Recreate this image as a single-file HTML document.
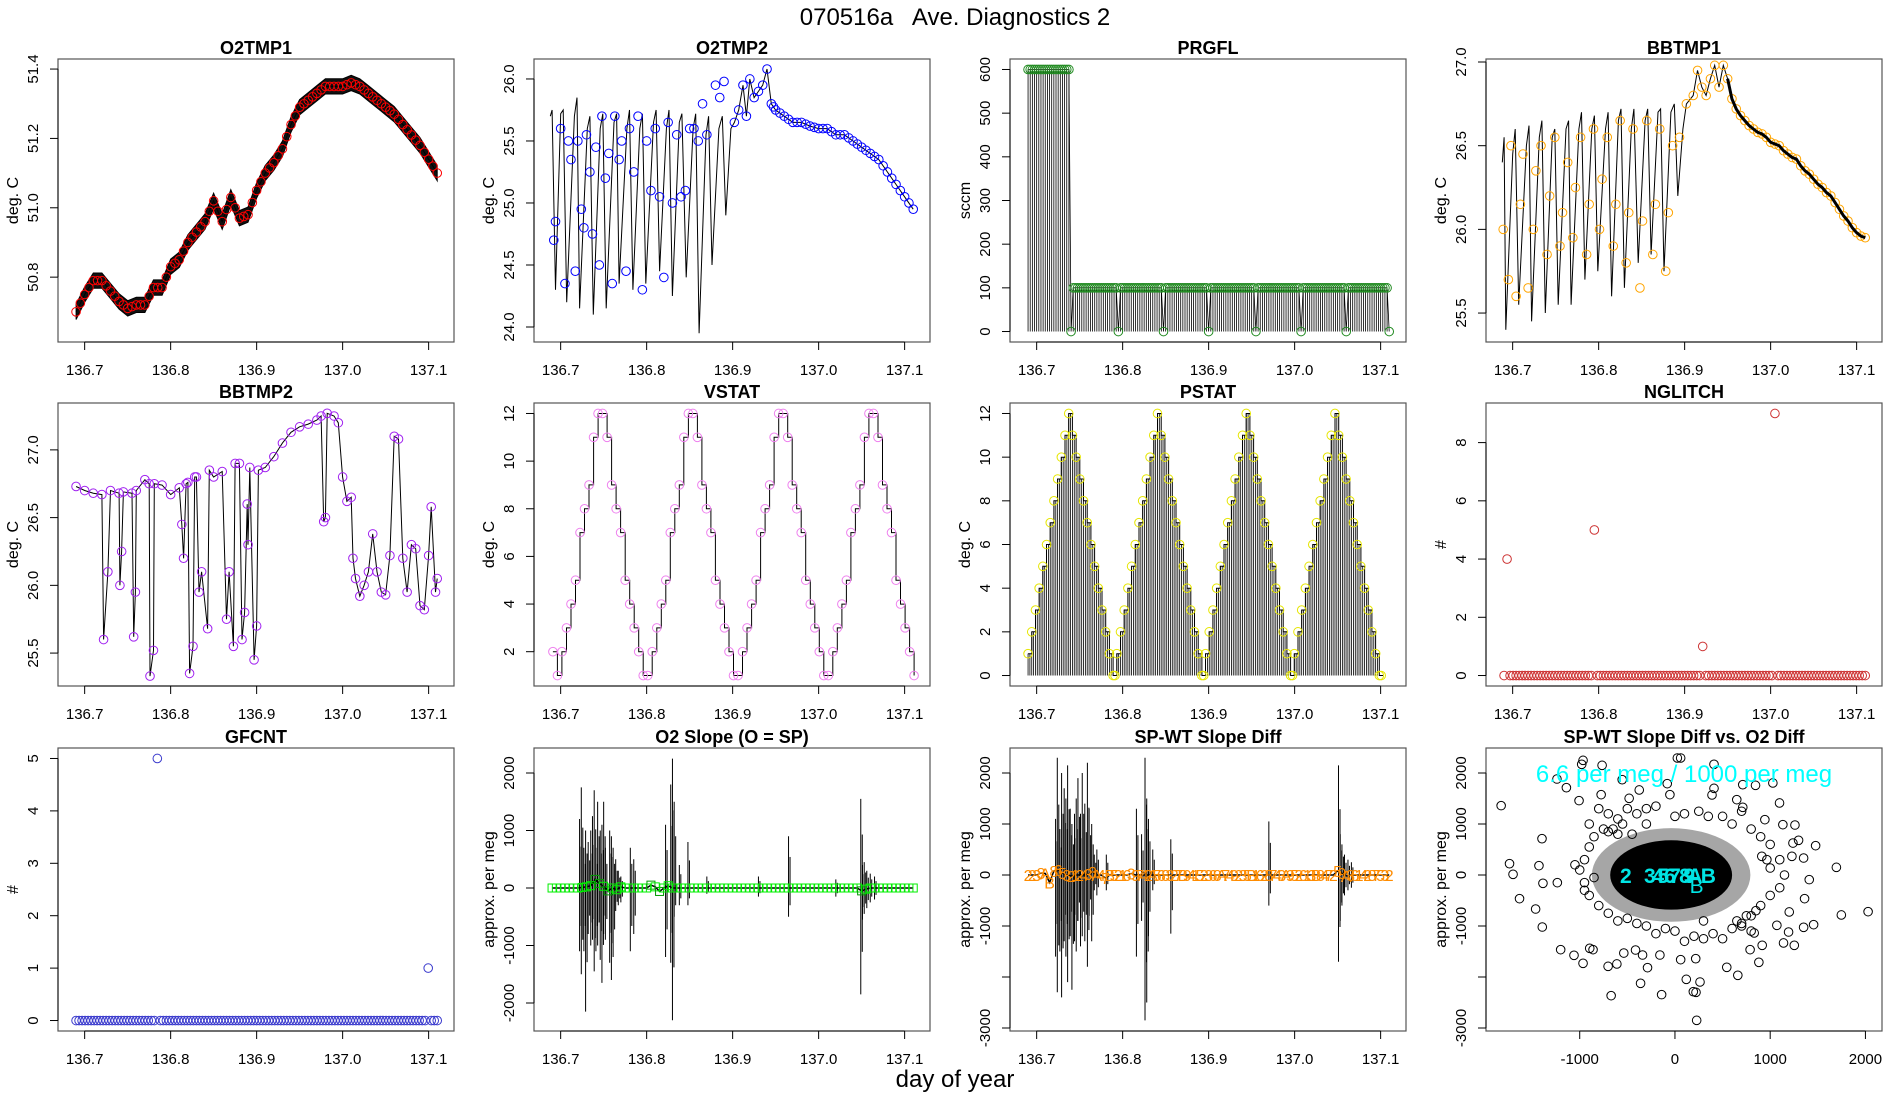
<!DOCTYPE html>
<html><head><meta charset="utf-8"><title>070516a Ave. Diagnostics 2</title>
<style>
html,body{margin:0;padding:0;background:#fff;}
svg{display:block;font-family:"Liberation Sans",Arial,sans-serif;}
</style></head>
<body>
<svg id="chart" width="1900" height="1100" viewBox="0 0 1900 1100" xmlns="http://www.w3.org/2000/svg">
<rect x="0" y="0" width="1900" height="1100" fill="#fff"/>
<text x="955" y="25" font-size="24" text-anchor="middle" style="white-space:pre">070516a   Ave. Diagnostics 2</text>
<text x="955" y="1087" font-size="24" text-anchor="middle">day of year</text>
</svg>
<script>
// ---------- data ----------
const dayTicks = [136.7, 136.8, 136.9, 137.0, 137.1];
const dayTickLabels = ["136.7", "136.8", "136.9", "137.0", "137.1"];

const o2t1Start = 136.69, o2t1Step = 0.01;
const o2t1Vals = [50.70,50.75,50.79,50.79,50.76,50.73,50.71,50.72,50.72,50.77,50.77,50.83,50.85,50.90,50.93,50.96,51.02,50.96,51.03,50.97,50.98,51.05,51.10,51.13,51.17,51.24,51.29,51.31,51.33,51.35,51.35,51.35,51.36,51.35,51.33,51.31,51.29,51.27,51.24,51.21,51.18,51.14,51.10];

const o2t2X = [136.688,136.690,136.694,136.700,136.703,136.707,136.716,136.719,136.722,136.731,136.734,136.738,136.746,136.749,136.753,136.762,136.765,136.768,136.777,136.780,136.784,136.792,136.795,136.799,136.808,136.811,136.815,136.823,136.826,136.830,136.838,136.841,136.846,136.854,136.857,136.861,136.869,136.872,136.876,136.884,136.888,136.892,136.898,136.902,136.907,136.912,136.916,136.920,136.925,136.930,136.935,136.940,136.945,136.950,136.960,136.970,136.980,136.990,137.000,137.010,137.020,137.030,137.040,137.050,137.060,137.070,137.080,137.090,137.100,137.110];
const o2t2Y = [25.70,25.75,24.30,25.72,25.75,24.20,25.70,25.85,24.15,25.60,25.70,24.10,25.60,25.72,24.15,25.65,25.72,24.35,25.60,25.75,24.30,25.60,25.72,24.35,25.65,25.75,24.45,25.60,25.75,24.25,25.65,25.72,24.40,25.60,25.72,23.95,25.55,25.70,24.50,25.60,25.70,24.90,25.60,25.65,25.75,25.95,25.70,26.00,25.85,25.90,25.95,26.08,25.80,25.75,25.70,25.65,25.65,25.62,25.60,25.60,25.55,25.55,25.50,25.45,25.40,25.35,25.25,25.15,25.05,24.95];
const o2t2CircX = [136.692,136.694,136.700,136.705,136.709,136.712,136.717,136.720,136.724,136.727,136.730,136.734,136.737,136.741,136.745,136.748,136.752,136.756,136.760,136.763,136.768,136.771,136.776,136.780,136.785,136.790,136.795,136.800,136.805,136.810,136.815,136.820,136.825,136.830,136.835,136.840,136.845,136.850,136.855,136.860,136.865,136.870,136.880,136.885,136.890];
const o2t2CircY = [24.70,24.85,25.60,24.35,25.50,25.35,24.45,25.50,24.95,24.80,25.55,25.25,24.75,25.45,24.50,25.70,25.20,25.40,24.35,25.70,25.35,25.50,24.45,25.60,25.25,25.70,24.30,25.50,25.10,25.60,25.05,24.40,25.65,25.00,25.55,25.05,25.10,25.60,25.60,25.50,25.80,25.55,25.95,25.85,25.98];

const prgflStart = 136.69, prgflStep = 0.0025;
const prgflLevels = [600,0,100,0,100,0,100,0,100,0,100,0,100,0,100,0];
const prgflCounts = [20,1,21,1,20,1,20,1,21,1,20,1,20,1,19,1];

const bb1X = [136.688,136.690,136.692,136.700,136.703,136.707,136.716,136.719,136.722,136.731,136.734,136.738,136.746,136.749,136.753,136.762,136.765,136.768,136.777,136.780,136.784,136.792,136.795,136.799,136.808,136.811,136.815,136.823,136.826,136.830,136.838,136.841,136.846,136.854,136.857,136.861,136.869,136.872,136.876,136.884,136.888,136.892,136.898,136.902,136.910,136.915,136.920,136.925,136.930,136.935,136.940,136.945,136.950,136.955,136.960,136.965,136.970,136.975,136.980,136.985,136.990,136.995,137.000,137.005,137.010,137.015,137.020,137.025,137.030,137.035,137.040,137.045,137.050,137.055,137.060,137.065,137.070,137.075,137.080,137.085,137.090,137.095,137.100,137.105,137.110];
const bb1Y = [26.40,26.55,25.40,26.45,26.60,25.55,26.50,26.62,25.45,26.55,26.65,25.50,26.55,26.60,25.55,26.60,26.65,25.55,26.60,26.70,25.70,26.60,26.68,25.75,26.60,26.70,25.60,26.65,26.72,25.65,26.60,26.72,25.80,26.65,26.72,25.85,26.70,26.72,25.75,26.70,26.75,26.20,26.60,26.75,26.80,26.95,26.85,26.80,26.90,26.98,26.85,26.98,26.90,26.78,26.72,26.68,26.65,26.62,26.60,26.58,26.57,26.55,26.52,26.51,26.50,26.47,26.45,26.43,26.42,26.38,26.35,26.33,26.30,26.27,26.25,26.22,26.20,26.16,26.12,26.08,26.05,26.01,25.98,25.96,25.95];
const bb1CircX = [136.689,136.695,136.698,136.704,136.709,136.712,136.718,136.724,136.727,136.733,136.740,136.743,136.749,136.755,136.758,136.764,136.770,136.773,136.779,136.786,136.789,136.794,136.801,136.804,136.810,136.817,136.820,136.825,136.832,136.835,136.840,136.848,136.851,136.856,136.863,136.866,136.871,136.878,136.881,136.886,136.894];
const bb1CircY = [26.00,25.70,26.50,25.60,26.15,26.45,25.65,26.00,26.35,26.50,25.85,26.20,26.55,25.90,26.10,26.40,25.95,26.25,26.55,25.85,26.15,26.60,26.00,26.30,26.55,25.90,26.15,26.65,25.80,26.10,26.60,25.65,26.05,26.65,25.85,26.15,26.60,25.75,26.10,26.50,26.55];

const bb2X = [136.690,136.700,136.710,136.720,136.722,136.727,136.730,136.740,136.741,136.743,136.745,136.755,136.757,136.759,136.760,136.770,136.775,136.776,136.780,136.781,136.790,136.800,136.810,136.813,136.815,136.818,136.820,136.822,136.826,136.828,136.830,136.833,136.836,136.843,136.845,136.850,136.860,136.865,136.868,136.873,136.875,136.880,136.883,136.886,136.889,136.890,136.892,136.897,136.900,136.902,136.910,136.920,136.930,136.940,136.950,136.960,136.970,136.975,136.978,136.980,136.982,136.990,136.995,137.000,137.005,137.010,137.012,137.015,137.020,137.025,137.030,137.035,137.040,137.045,137.050,137.055,137.060,137.065,137.070,137.075,137.080,137.085,137.090,137.095,137.100,137.103,137.108,137.110];
const bb2Y = [26.73,26.70,26.68,26.67,25.60,26.10,26.70,26.68,26.00,26.25,26.69,26.68,25.62,25.95,26.70,26.78,26.75,25.33,25.52,26.75,26.74,26.67,26.72,26.45,26.20,26.75,26.76,25.35,25.55,26.80,26.80,25.95,26.10,25.68,26.85,26.80,26.84,25.75,26.10,25.55,26.90,26.90,25.60,25.80,26.60,26.30,26.87,25.45,25.70,26.85,26.87,26.95,27.05,27.13,27.17,27.19,27.22,27.25,26.47,26.50,27.27,27.25,27.20,26.80,26.62,26.65,26.20,26.05,25.92,26.00,26.10,26.38,26.10,25.95,25.93,26.22,27.10,27.08,26.20,25.95,26.30,26.27,25.85,25.82,26.22,26.58,25.95,26.05];

const vstatStart = 136.691, vstatStep = 0.00525;
const vstatVals = [2,1,2,3,4,5,7,8,9,11,12,12,11,9,8,7,5,4,3,2,1,1,2,3,4,5,7,8,9,11,12,12,11,9,8,7,5,4,3,2,1,1,2,3,4,5,7,8,9,11,12,12,11,9,8,7,5,4,3,2,1,1,2,3,4,5,7,8,9,11,12,12,11,9,8,7,5,4,3,2,1];

const pstatStart = 136.69, pstatStep = 0.0043;
const pstatVals = [1,2,3,4,5,6,7,8,9,10,11,12,11,10,9,8,7,6,5,4,3,2,1,0,1,2,3,4,5,6,7,8,9,10,11,12,11,10,9,8,7,6,5,4,3,2,1,0,1,2,3,4,5,6,7,8,9,10,11,12,11,10,9,8,7,6,5,4,3,2,1,0,1,2,3,4,5,6,7,8,9,10,11,12,11,10,9,8,7,6,5,4,3,2,1,0];

const cntStart = 136.69, cntStep = 0.0035;
const nglitchVals = [0,4,0,0,0,0,0,0,0,0, 0,0,0,0,0,0,0,0,0,0, 0,0,0,0,0,0,0,0,0,0, 5,0,0,0,0,0,0,0,0,0, 0,0,0,0,0,0,0,0,0,0, 0,0,0,0,0,0,0,0,0,0, 0,0,0,0,0,0,1,0,0,0, 0,0,0,0,0,0,0,0,0,0, 0,0,0,0,0,0,0,0,0,0, 9,0,0,0,0,0,0,0,0,0, 0,0,0,0,0,0,0,0,0,0, 0,0,0,0,0,0,0,0,0,0, 0];
const gfcntVals = [0,0,0,0,0,0,0,0,0,0, 0,0,0,0,0,0,0,0,0,0, 0,0,0,0,0,0,0,5,0,0, 0,0,0,0,0,0,0,0,0,0, 0,0,0,0,0,0,0,0,0,0, 0,0,0,0,0,0,0,0,0,0, 0,0,0,0,0,0,0,0,0,0, 0,0,0,0,0,0,0,0,0,0, 0,0,0,0,0,0,0,0,0,0, 0,0,0,0,0,0,0,0,0,0, 0,0,0,0,0,0,0,0,0,0, 0,0,0,0,0,0,0,1,0,0, 0];

const o2sX  = [136.722,136.724,136.727,136.729,136.732,136.735,136.737,136.739,136.741,136.743,136.746,136.748,136.750,136.752,136.757,136.759,136.761,136.764,136.767,136.770,136.781,136.785,136.822,136.828,136.830,136.832,136.838,136.848,136.870,136.930,136.965,137.020,137.049,137.051,137.053,137.056,137.060,137.065];
const o2sHi = [1200,1750,700,1000,800,1000,1250,1700,700,1500,1000,1100,1500,700,1000,900,700,500,300,200,700,500,1100,1800,2250,1500,400,800,200,200,900,150,1550,400,450,300,250,200];
const o2sLo = [-1100,-1500,-1100,-2150,-800,-1000,-900,-1450,-1100,-1000,-1250,-1650,-800,-900,-1300,-1600,-1200,-400,-300,-250,-1100,-800,-1200,-1300,-2300,-500,-300,-300,-100,-150,-500,-150,-1850,-550,-450,-350,-250,-200];
const o2sqStart = 136.69, o2sqStep = 0.005;
const o2sqVals = [0,0,0,0,0,0,0,10,20,40,150,80,30,-50,0,-30,20,0,0,0,0,0,0,50,20,-60,0,40,0,0,0,0,0,0,0,0,0,0,0,0,0,0,0,0,0,0,0,0,0,0,0,0,0,0,0,0,0,0,0,0,0,0,0,0,0,0,0,0,0,0,0,0,-50,-20,0,0,0,0,0,0,0,0,0,0,0];

const spwX  = [136.722,136.724,136.727,136.729,136.732,136.734,136.736,136.739,136.741,136.744,136.746,136.748,136.751,136.753,136.756,136.759,136.761,136.764,136.767,136.770,136.781,136.816,136.822,136.826,136.828,136.830,136.835,136.856,136.970,137.051,137.053,137.055,137.058,137.062,137.066];
const spwHi = [1100,2300,900,2000,1700,1500,2150,1300,1000,1200,1500,1900,1200,2000,1400,2200,1300,1000,400,500,400,1300,800,2300,1500,1100,500,700,1050,2150,800,600,400,300,250];
const spwLo = [-1600,-2300,-1500,-2400,-1300,-1600,-2100,-1200,-2250,-1300,-1500,-900,-1400,-1200,-1300,-1800,-800,-1300,-300,-400,-300,-1600,-900,-2850,-2500,-1200,-300,-1150,-600,-1700,-900,-600,-400,-300,-250];
const spwLabStart = 136.69, spwLabStep = 0.005;
const spwLabChars = ["2","2","3","8","A","B","8","6","5","3","2","1","2","4","3","8","A","4","7","B","5","2","1","6","3","9","7","4","2","A","5","6","8","3","2","7","B","9","4","1","5","2","3","6","8","A","7","4","9","2","3","5","B","1","6","2","8","7","4","3","A","9","5","2","6","1","3","B","8","4","7","2","5","9","A","3","6","1","4","2","8","7","5","3","2"];
const spwLabVals = [0,0,0,40,30,-150,80,100,40,0,-20,0,0,0,20,60,0,0,-60,0,0,0,0,0,30,0,0,0,0,0,0,0,0,0,0,0,0,0,0,0,0,0,0,0,0,0,0,0,0,0,0,0,0,0,0,0,0,0,0,0,0,0,0,0,0,0,0,0,0,0,0,0,80,40,-20,0,0,0,0,0,0,0,0,0,0];

const scX = [-1825,-1737,-1700,-1632,-1463,-1428,-1396,-1386,-1393,-1235,-1200,-1140,-1239,-1060,-1007,-965,-979,-965,-895,-860,-765,-775,-702,-670,-610,-554,-481,-537,-414,-375,-361,-340,-288,-140,-158,-81,-53,25,60,119,193,221,228,263,218,60,410,410,389,649,712,846,1028,712,544,660,832,789,881,916,944,1098,1133,1260,1298,1239,1477,1351,1410,1361,1456,1351,1253,1140,1193,1695,1747,2028,1070,1200,1228,1000,965,912,-900,-800,-700,-750,-600,-500,-400,-300,-200,0,100,250,350,500,600,700,800,900,1000,1100,1150,1100,1000,900,800,700,600,500,400,300,200,100,0,-100,-200,-300,-400,-500,-600,-700,-800,-900,-950,-1000,-950,-900,-850,-1050,-950,-850,-650,-550,-450,650,750,850,-700,-600,700,800,-300,300];
const scY = [1360,222,13,-464,-667,183,712,-163,-1020,-150,-1464,1712,1882,-1575,1458,2248,2170,-1732,-1438,-1464,2150,1575,-1791,-2366,-1745,1869,1503,-1530,-1471,1667,-2124,-1569,-1817,-2346,-1569,1791,1575,2294,2294,-2046,-2288,-2301,-2850,-2098,-1641,-1660,2170,1699,1569,1477,1771,1758,1804,1327,-1810,-1967,-1137,-1464,-1712,-1379,1085,1412,987,980,680,627,575,333,-91,-464,-974,-1026,-1379,-1333,-1118,150,-784,-719,-987,-725,366,137,300,366,1000,1300,1200,900,1100,1300,1200,1300,1350,1150,1200,1250,1150,1150,1000,1250,900,750,600,300,0,-250,-400,-600,-800,-950,-1050,-1250,-1150,-1250,-1200,-1300,-1100,-1050,-1150,-1000,-950,-850,-900,-750,-600,-400,-150,100,300,550,750,200,-300,-50,900,1000,800,-900,-800,-700,850,800,-1000,-1100,1000,-900];
const scCore = [-40, 0, 640, 680];
const scLabChars = ["2","3","4","5","6","7","8","9","A","B","B"];
const scLabX = [-516,-263,-175,-123,-53,0,105,150,210,350,228];
const scLabY = [0,0,0,0,0,0,0,0,0,0,-200];
const scXTicks = [-1000,0,1000,2000];
const scXTickLabels = ["-1000","0","1000","2000"];

// ---------- helpers ----------
const svg = document.getElementById('chart');
const NS = 'http://www.w3.org/2000/svg';
const PW = 396, PH = 283;
const lefts = [58, 534, 1010, 1486], tops = [59, 403, 748];
const dayDomain = [136.669, 137.1295];

function el(parent, tag, attrs, name, inter) {
  const e = document.createElementNS(NS, tag);
  for (const k in attrs) e.setAttribute(k, attrs[k]);
  
  
  parent.appendChild(e);
  return e;
}

function makePanel(key, col, row, title, ylab, xd, yd, yTicks, yTickLabels, xTicks, xTickLabels) {
  const L = lefts[col], T = tops[row];
  const g = el(svg, 'g', {}, key + '-panel', false);
  const sx = v => L + (v - xd[0]) / (xd[1] - xd[0]) * PW;
  const sy = v => T + PH - (v - yd[0]) / (yd[1] - yd[0]) * PH;
  el(g, 'rect', {x: L, y: T, width: PW, height: PH, fill: 'none', stroke: '#555', 'stroke-width': 1.2}, key + '-plot-frame', false);
  const t = el(g, 'text', {x: L + PW / 2, y: T - 5, 'font-size': 18, 'font-weight': 'bold', 'text-anchor': 'middle'}, key + '-title', false);
  t.textContent = title;
  const xa = el(g, 'g', {}, key + '-x-axis', false);
  el(xa, 'line', {x1: sx(xTicks[0]), x2: sx(xTicks[xTicks.length - 1]), y1: T + PH, y2: T + PH, stroke: '#000', 'stroke-width': 1}, key + '-x-axis-line', false);
  xTicks.forEach((v, i) => {
    el(xa, 'line', {x1: sx(v), x2: sx(v), y1: T + PH, y2: T + PH + 8, stroke: '#000', 'stroke-width': 1}, key + '-x-tick', false);
    const tl = el(xa, 'text', {x: sx(v), y: T + PH + 33, 'font-size': 15, 'text-anchor': 'middle'}, key + '-x-tick-label', false);
    tl.textContent = xTickLabels[i];
  });
  const ya = el(g, 'g', {}, key + '-y-axis', false);
  el(ya, 'line', {x1: L, x2: L, y1: sy(yTicks[0]), y2: sy(yTicks[yTicks.length - 1]), stroke: '#000', 'stroke-width': 1}, key + '-y-axis-line', false);
  yTicks.forEach((v, i) => {
    el(ya, 'line', {x1: L - 8, x2: L, y1: sy(v), y2: sy(v), stroke: '#000', 'stroke-width': 1}, key + '-y-tick', false);
    if (yTickLabels[i] !== '') {
      const tl = el(ya, 'text', {x: 0, y: 0, 'font-size': 15, 'text-anchor': 'middle', transform: 'translate(' + (L - 20) + ',' + sy(v) + ') rotate(-90)'}, key + '-y-tick-label', false);
      tl.textContent = yTickLabels[i];
    }
  });
  const yl = el(g, 'text', {x: 0, y: 0, 'font-size': 16, 'text-anchor': 'middle', transform: 'translate(' + (L - 40) + ',' + (T + PH / 2) + ') rotate(-90)'}, key + '-y-axis-title', false);
  yl.textContent = ylab;
  return {g, sx, sy, L, T};
}
function circle(p, x, y, color, name) {
  el(p.g, 'circle', {cx: p.sx(x), cy: p.sy(y), r: 4.3, fill: 'none', stroke: color, 'stroke-width': 1}, name, false);
}
function polyline(p, xs, ys, color, w, name) {
  const pts = xs.map((x, i) => p.sx(x).toFixed(1) + ',' + p.sy(ys[i]).toFixed(1)).join(' ');
  el(p.g, 'polyline', {points: pts, fill: 'none', stroke: color, 'stroke-width': w}, name, false);
}

// 1 O2TMP1
(function () {
  const p = makePanel('o2tmp1', 0, 0, 'O2TMP1', 'deg. C', dayDomain, [50.613, 51.429], [50.8, 51.0, 51.2, 51.4], ["50.8", "51.0", "51.2", "51.4"], dayTicks, dayTickLabels);
  const xs = o2t1Vals.map((v, i) => o2t1Start + i * o2t1Step);
  const up = xs.map((x, i) => p.sx(x).toFixed(1) + ',' + p.sy(o2t1Vals[i] + 0.022).toFixed(1));
  const dn = xs.map((x, i) => p.sx(x).toFixed(1) + ',' + p.sy(o2t1Vals[i] - 0.022).toFixed(1)).reverse();
  el(p.g, 'polygon', {points: up.concat(dn).join(' '), fill: '#111', stroke: '#000', 'stroke-width': 1}, 'o2tmp1-trace-band', false);
  polyline(p, xs, o2t1Vals, '#000', 1, 'o2tmp1-trace');
  o2t1Vals.forEach((v, i) => {
    circle(p, xs[i], v, '#ff0000', 'o2tmp1-point');
    if (i < o2t1Vals.length - 1) circle(p, xs[i] + o2t1Step / 2, (v + o2t1Vals[i + 1]) / 2, '#ff0000', 'o2tmp1-point');
  });
})();

// 2 O2TMP2
(function () {
  const p = makePanel('o2tmp2', 1, 0, 'O2TMP2', 'deg. C', dayDomain, [23.879, 26.161], [24.0, 24.5, 25.0, 25.5, 26.0], ["24.0", "24.5", "25.0", "25.5", "26.0"], dayTicks, dayTickLabels);
  polyline(p, o2t2X, o2t2Y, '#000', 1, 'o2tmp2-trace');
  o2t2CircX.forEach((x, i) => circle(p, x, o2t2CircY[i], '#0000ff', 'o2tmp2-point'));
  o2t2X.forEach((x, i) => { if (x >= 136.9) circle(p, x, o2t2Y[i], '#0000ff', 'o2tmp2-point'); });
  o2t2X.forEach((x, i) => { if (x >= 136.945 && i < o2t2X.length - 1) circle(p, (x + o2t2X[i + 1]) / 2, (o2t2Y[i] + o2t2Y[i + 1]) / 2, '#0000ff', 'o2tmp2-point'); });
})();

// 3 PRGFL
(function () {
  const p = makePanel('prgfl', 2, 0, 'PRGFL', 'sccm', dayDomain, [-24, 624], [0, 100, 200, 300, 400, 500, 600], ["0", "100", "200", "300", "400", "500", "600"], dayTicks, dayTickLabels);
  const vals = [];
  prgflLevels.forEach((lv, k) => { for (let j = 0; j < prgflCounts[k]; j++) vals.push(lv); });
  const xs = vals.map((v, i) => prgflStart + i * prgflStep);
  xs.forEach((x, i) => {
    el(p.g, 'line', {x1: p.sx(x), x2: p.sx(x), y1: p.sy(0), y2: p.sy(vals[i]), stroke: '#000', 'stroke-width': 0.8}, 'prgfl-drop-line', false);
  });
  polyline(p, xs, vals, '#000', 0.8, 'prgfl-trace');
  xs.forEach((x, i) => circle(p, x, vals[i], '#228b22', 'prgfl-point'));
})();

// 4 BBTMP1
(function () {
  const p = makePanel('bbtmp1', 3, 0, 'BBTMP1', 'deg. C', dayDomain, [25.327, 27.018], [25.5, 26.0, 26.5, 27.0], ["25.5", "26.0", "26.5", "27.0"], dayTicks, dayTickLabels);
  polyline(p, bb1X, bb1Y, '#000', 1, 'bbtmp1-trace');
  bb1CircX.forEach((x, i) => circle(p, x, bb1CircY[i], '#ffa500', 'bbtmp1-point'));
  bb1X.forEach((x, i) => { if (x >= 136.9) circle(p, x, bb1Y[i], '#ffa500', 'bbtmp1-point'); });
  el(p.g, 'polyline', {points: bb1X.map((x, i) => x >= 136.95 ? p.sx(x).toFixed(1) + ',' + p.sy(bb1Y[i]).toFixed(1) : null).filter(s => s).join(' '), fill: 'none', stroke: '#000', 'stroke-width': 3}, 'bbtmp1-trace-thick', false);
})();

// 5 BBTMP2
(function () {
  const p = makePanel('bbtmp2', 0, 1, 'BBTMP2', 'deg. C', dayDomain, [25.257, 27.346], [25.5, 26.0, 26.5, 27.0], ["25.5", "26.0", "26.5", "27.0"], dayTicks, dayTickLabels);
  polyline(p, bb2X, bb2Y, '#000', 1, 'bbtmp2-trace');
  bb2X.forEach((x, i) => circle(p, x, bb2Y[i], '#a020f0', 'bbtmp2-point'));
})();

// 6 VSTAT
(function () {
  const p = makePanel('vstat', 1, 1, 'VSTAT', 'deg. C', dayDomain, [0.56, 12.44], [2, 4, 6, 8, 10, 12], ["2", "4", "6", "8", "10", "12"], dayTicks, dayTickLabels);
  const pts = [];
  vstatVals.forEach((v, i) => {
    const x = vstatStart + i * vstatStep;
    if (i > 0) pts.push(p.sx(x).toFixed(1) + ',' + p.sy(vstatVals[i - 1]).toFixed(1));
    pts.push(p.sx(x).toFixed(1) + ',' + p.sy(v).toFixed(1));
  });
  el(p.g, 'polyline', {points: pts.join(' '), fill: 'none', stroke: '#000', 'stroke-width': 1}, 'vstat-step-trace', false);
  vstatVals.forEach((v, i) => circle(p, vstatStart + i * vstatStep, v, '#ee82ee', 'vstat-point'));
})();

// 7 PSTAT
(function () {
  const p = makePanel('pstat', 2, 1, 'PSTAT', 'deg. C', dayDomain, [-0.48, 12.48], [0, 2, 4, 6, 8, 10, 12], ["0", "2", "4", "6", "8", "10", "12"], dayTicks, dayTickLabels);
  const pts = [];
  pstatVals.forEach((v, i) => {
    const x = pstatStart + i * pstatStep;
    el(p.g, 'line', {x1: p.sx(x), x2: p.sx(x), y1: p.sy(0), y2: p.sy(v), stroke: '#000', 'stroke-width': 0.8}, 'pstat-drop-line', false);
    el(p.g, 'line', {x1: p.sx(x + pstatStep / 2), x2: p.sx(x + pstatStep / 2), y1: p.sy(0), y2: p.sy(v), stroke: '#000', 'stroke-width': 0.8}, 'pstat-drop-line', false);
    pts.push(p.sx(x).toFixed(1) + ',' + p.sy(v).toFixed(1));
    pts.push(p.sx(x + pstatStep).toFixed(1) + ',' + p.sy(v).toFixed(1));
  });
  el(p.g, 'polyline', {points: pts.join(' '), fill: 'none', stroke: '#000', 'stroke-width': 1}, 'pstat-step-trace', false);
  pstatVals.forEach((v, i) => circle(p, pstatStart + i * pstatStep, v, '#e6e600', 'pstat-point'));
  pstatVals.forEach((v, i) => { if (v === 0) circle(p, pstatStart + (i + 0.5) * pstatStep, 0, '#e6e600', 'pstat-point'); });
})();

// 8 NGLITCH
(function () {
  const p = makePanel('nglitch', 3, 1, 'NGLITCH', '#', dayDomain, [-0.36, 9.36], [0, 2, 4, 6, 8], ["0", "2", "4", "6", "8"], dayTicks, dayTickLabels);
  nglitchVals.forEach((v, i) => circle(p, cntStart + i * cntStep, v, '#cd3333', 'nglitch-point'));
})();

// 9 GFCNT
(function () {
  const p = makePanel('gfcnt', 0, 2, 'GFCNT', '#', dayDomain, [-0.2, 5.2], [0, 1, 2, 3, 4, 5], ["0", "1", "2", "3", "4", "5"], dayTicks, dayTickLabels);
  gfcntVals.forEach((v, i) => circle(p, cntStart + i * cntStep, v, '#3a3acd', 'gfcnt-point'));
})();

// 10 O2 Slope
(function () {
  const p = makePanel('o2-slope', 1, 2, 'O2 Slope (O = SP)', 'approx. per meg', dayDomain, [-2487, 2435], [-2000, -1000, 0, 1000, 2000], ["-2000", "-1000", "0", "1000", "2000"], dayTicks, dayTickLabels);
  const xs0 = o2sqVals.map((v, i) => o2sqStart + i * o2sqStep);
  polyline(p, xs0, o2sqVals, '#000', 1.5, 'o2-slope-trace');
  o2sX.forEach((x, i) => {
    el(p.g, 'line', {x1: p.sx(x), x2: p.sx(x), y1: p.sy(o2sLo[i]), y2: p.sy(o2sHi[i]), stroke: '#000', 'stroke-width': 1}, 'o2-slope-spike', false);
    el(p.g, 'line', {x1: p.sx(x) + 1.5, x2: p.sx(x) + 1.5, y1: p.sy(o2sLo[i] * 0.6), y2: p.sy(o2sHi[i] * 0.6), stroke: '#000', 'stroke-width': 1}, 'o2-slope-spike', false);
  });
  o2sqVals.forEach((v, i) => {
    const x = p.sx(xs0[i]), y = p.sy(v);
    el(p.g, 'rect', {x: x - 4, y: y - 4, width: 8, height: 8, fill: 'none', stroke: Math.abs(v) > 40 ? '#009900' : '#00ee00', 'stroke-width': 1}, 'o2-slope-square', false);
  });
})();

// 11 SP-WT Slope Diff
(function () {
  const p = makePanel('spwt-slope-diff', 2, 2, 'SP-WT Slope Diff', 'approx. per meg', dayDomain, [-3059, 2490], [-3000, -2000, -1000, 0, 1000, 2000], ["-3000", "", "-1000", "0", "1000", "2000"], dayTicks, dayTickLabels);
  const xs0 = spwLabVals.map((v, i) => spwLabStart + i * spwLabStep);
  polyline(p, xs0, spwLabVals, '#000', 1.5, 'spwt-trace');
  spwX.forEach((x, i) => {
    el(p.g, 'line', {x1: p.sx(x), x2: p.sx(x), y1: p.sy(spwLo[i]), y2: p.sy(spwHi[i]), stroke: '#000', 'stroke-width': 1}, 'spwt-spike', false);
    el(p.g, 'line', {x1: p.sx(x) + 1.5, x2: p.sx(x) + 1.5, y1: p.sy(spwLo[i] * 0.6), y2: p.sy(spwHi[i] * 0.6), stroke: '#000', 'stroke-width': 1}, 'spwt-spike', false);
  });
  spwLabVals.forEach((v, i) => {
    const t = el(p.g, 'text', {x: p.sx(xs0[i]), y: p.sy(v) + 6, 'font-size': 16, fill: '#ff8c00', 'text-anchor': 'middle'}, 'spwt-label-point', false);
    t.textContent = spwLabChars[i];
  });
})();

// 12 Scatter
(function () {
  const p = makePanel('spwt-vs-o2', 3, 2, 'SP-WT Slope Diff vs. O2 Diff', 'approx. per meg', [-1984, 2174], [-3059, 2490], [-3000, -2000, -1000, 0, 1000, 2000], ["-3000", "", "-1000", "0", "1000", "2000"], scXTicks, scXTickLabels);
  const cx = p.sx(scCore[0]), cy = p.sy(scCore[1]);
  const rx = Math.abs(p.sx(scCore[0] + scCore[2]) - cx), ry = Math.abs(p.sy(scCore[1] + scCore[3]) - cy);
  el(p.g, 'ellipse', {cx: cx, cy: cy, rx: rx * 1.3, ry: ry * 1.35, fill: '#000', opacity: 0.35}, 'scatter-core-halo', false);
  el(p.g, 'ellipse', {cx: cx, cy: cy, rx: rx, ry: ry, fill: '#000'}, 'scatter-dense-core', false);
  scX.forEach((x, i) => circle(p, x, scY[i], '#000', 'scatter-point'));
  scLabChars.forEach((c, i) => {
    const t = el(p.g, 'text', {x: p.sx(scLabX[i]), y: p.sy(scLabY[i]) + 8, 'font-size': 21, 'font-weight': i < 10 ? 'bold' : 'normal', fill: '#00e5e5', 'text-anchor': 'middle'}, 'scatter-cyan-label', false);
    t.textContent = c;
  });
  const note = el(p.g, 'text', {x: p.L + PW / 2, y: p.T + 34, 'font-size': 24, fill: '#00ffff', 'text-anchor': 'middle'}, 'slope-ratio-annotation', false);
  note.textContent = '6.6 per meg / 1000 per meg';
})();
</script>
</body></html>
